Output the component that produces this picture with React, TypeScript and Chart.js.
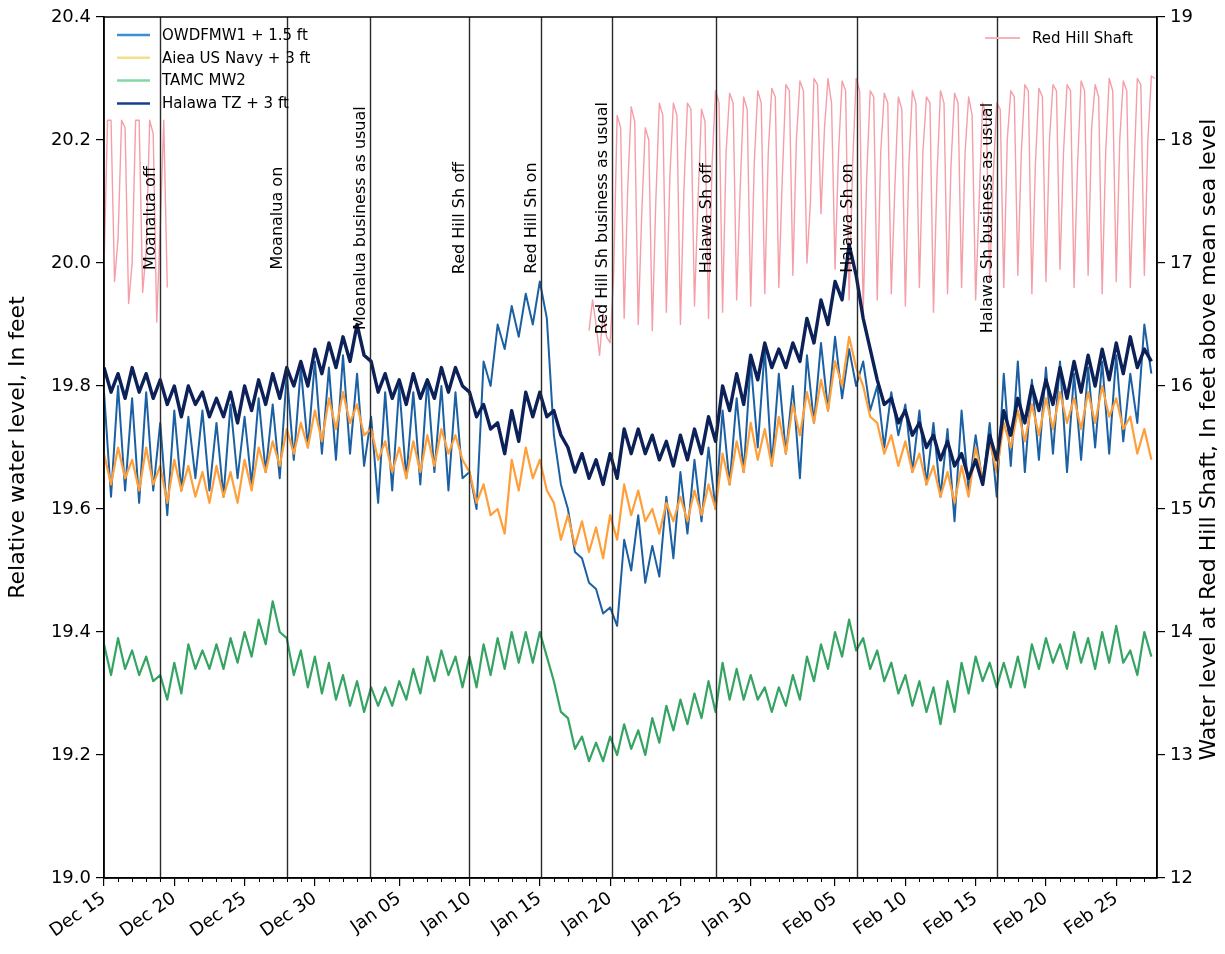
import React, { useEffect, useRef } from 'react';
import { Chart, registerables } from 'chart.js';
Chart.register(...registerables);

// ---- axis ticks ----
const tickDays = [0, 5, 10, 15, 21, 26, 31, 36, 41, 46, 52, 57, 62, 67, 72];
const tickLabels = ['Dec 15', 'Dec 20', 'Dec 25', 'Dec 30', 'Jan 05', 'Jan 10', 'Jan 15', 'Jan 20', 'Jan 25', 'Jan 30', 'Feb 05', 'Feb 10', 'Feb 15', 'Feb 20', 'Feb 25'];
const leftTicks = [19.0, 19.2, 19.4, 19.6, 19.8, 20.0, 20.2, 20.4];
const rightTicks = [12, 13, 14, 15, 16, 17, 18, 19];

// ---- event markers (days after Dec 15) ----
const eventDays = [3.98, 13.02, 18.92, 25.96, 31.08, 36.13, 43.53, 53.56, 63.51];
const eventLabels = ['Moanalua off', 'Moanalua on', 'Moanalua business as usual', 'Red Hill Sh off', 'Red Hill Sh on', 'Red Hill Sh business as usual', 'Halawa Sh off', 'Halawa Sh on', 'Halawa Sh business as usual'];
const eventLabelLevel = 20.073;

// ---- well series: 12-hourly samples starting Dec 15 ----
const wellStepDays = 0.5;

const owdfmw1 = [
  19.79, 19.62, 19.80, 19.63, 19.78, 19.61, 19.79, 19.63, 19.74, 19.59,
  19.76, 19.63, 19.75, 19.65, 19.76, 19.63, 19.74, 19.62, 19.77, 19.65,
  19.75, 19.64, 19.78, 19.66, 19.77, 19.65, 19.82, 19.68, 19.83, 19.70,
  19.84, 19.69, 19.83, 19.68, 19.85, 19.69, 19.82, 19.67, 19.75, 19.61,
  19.79, 19.63, 19.80, 19.65, 19.79, 19.64, 19.81, 19.66, 19.80, 19.63,
  19.79, 19.65, 19.66, 19.60, 19.84, 19.80, 19.90, 19.86, 19.93, 19.88,
  19.95, 19.90, 19.97, 19.91, 19.72, 19.64, 19.60, 19.53, 19.52, 19.48,
  19.47, 19.43, 19.44, 19.41, 19.55, 19.50, 19.59, 19.48, 19.54, 19.49,
  19.62, 19.52, 19.66, 19.56, 19.68, 19.58, 19.70, 19.60, 19.76, 19.64,
  19.78, 19.66, 19.84, 19.70, 19.86, 19.67, 19.82, 19.69, 19.80, 19.65,
  19.85, 19.74, 19.87, 19.76, 19.88, 19.78, 19.86, 19.80, 19.84, 19.76,
  19.80, 19.70, 19.79, 19.72, 19.77, 19.66, 19.76, 19.64, 19.74, 19.62,
  19.73, 19.58, 19.76, 19.63, 19.72, 19.64, 19.74, 19.62, 19.82, 19.67,
  19.84, 19.66, 19.81, 19.68, 19.83, 19.69, 19.84, 19.66, 19.82, 19.68,
  19.83, 19.70, 19.84, 19.69, 19.85, 19.71, 19.82, 19.74, 19.90, 19.82,
];

const aieaNavy = [
  19.69, 19.64, 19.70, 19.65, 19.68, 19.63, 19.70, 19.64, 19.67, 19.61,
  19.68, 19.63, 19.67, 19.62, 19.66, 19.61, 19.67, 19.62, 19.66, 19.61,
  19.68, 19.63, 19.70, 19.66, 19.71, 19.67, 19.73, 19.69, 19.74, 19.70,
  19.76, 19.71, 19.78, 19.73, 19.79, 19.74, 19.77, 19.72, 19.73, 19.68,
  19.71, 19.66, 19.70, 19.65, 19.71, 19.66, 19.72, 19.67, 19.73, 19.69,
  19.72, 19.68, 19.66, 19.61, 19.64, 19.59, 19.60, 19.56, 19.68, 19.63,
  19.70, 19.65, 19.68, 19.63, 19.61, 19.55, 19.59, 19.54, 19.58, 19.53,
  19.57, 19.52, 19.59, 19.55, 19.64, 19.59, 19.63, 19.58, 19.60, 19.56,
  19.61, 19.58, 19.62, 19.58, 19.63, 19.59, 19.64, 19.60, 19.69, 19.64,
  19.71, 19.66, 19.74, 19.68, 19.73, 19.67, 19.75, 19.69, 19.77, 19.72,
  19.79, 19.74, 19.81, 19.76, 19.84, 19.80, 19.88, 19.83, 19.80, 19.75,
  19.74, 19.69, 19.72, 19.67, 19.71, 19.66, 19.69, 19.64, 19.67, 19.62,
  19.66, 19.61, 19.67, 19.62, 19.70, 19.65, 19.71, 19.66, 19.74, 19.70,
  19.76, 19.71, 19.77, 19.72, 19.78, 19.73, 19.79, 19.74, 19.78, 19.73,
  19.79, 19.74, 19.80, 19.75, 19.78, 19.73, 19.75, 19.69, 19.73, 19.68,
];

const tamcMw2 = [
  19.38, 19.33, 19.39, 19.34, 19.37, 19.33, 19.36, 19.32, 19.33, 19.29,
  19.35, 19.30, 19.38, 19.34, 19.37, 19.34, 19.38, 19.34, 19.39, 19.35,
  19.40, 19.36, 19.42, 19.38, 19.45, 19.40, 19.39, 19.33, 19.37, 19.31,
  19.36, 19.30, 19.35, 19.29, 19.33, 19.28, 19.32, 19.27, 19.31, 19.28,
  19.31, 19.28, 19.32, 19.29, 19.34, 19.30, 19.36, 19.32, 19.37, 19.33,
  19.36, 19.31, 19.36, 19.31, 19.38, 19.33, 19.39, 19.34, 19.40, 19.35,
  19.40, 19.35, 19.40, 19.36, 19.32, 19.27, 19.26, 19.21, 19.23, 19.19,
  19.22, 19.19, 19.23, 19.20, 19.25, 19.21, 19.24, 19.20, 19.26, 19.22,
  19.28, 19.24, 19.29, 19.25, 19.30, 19.26, 19.32, 19.27, 19.35, 19.29,
  19.34, 19.29, 19.33, 19.29, 19.31, 19.27, 19.31, 19.28, 19.33, 19.29,
  19.36, 19.32, 19.38, 19.34, 19.40, 19.36, 19.42, 19.37, 19.39, 19.34,
  19.37, 19.32, 19.35, 19.30, 19.33, 19.28, 19.32, 19.27, 19.31, 19.25,
  19.32, 19.27, 19.35, 19.30, 19.36, 19.32, 19.35, 19.31, 19.35, 19.31,
  19.36, 19.31, 19.38, 19.34, 19.39, 19.35, 19.38, 19.34, 19.40, 19.35,
  19.39, 19.34, 19.40, 19.35, 19.41, 19.35, 19.37, 19.33, 19.40, 19.36,
];

const halawaTz = [
  19.83, 19.79, 19.82, 19.78, 19.83, 19.79, 19.82, 19.78, 19.81, 19.77,
  19.80, 19.75, 19.80, 19.77, 19.79, 19.75, 19.78, 19.75, 19.79, 19.74,
  19.80, 19.76, 19.81, 19.77, 19.82, 19.78, 19.83, 19.80, 19.84, 19.80,
  19.86, 19.82, 19.87, 19.83, 19.88, 19.84, 19.90, 19.85, 19.84, 19.79,
  19.82, 19.78, 19.81, 19.77, 19.82, 19.78, 19.81, 19.78, 19.83, 19.79,
  19.83, 19.80, 19.79, 19.75, 19.77, 19.73, 19.74, 19.69, 19.76, 19.71,
  19.79, 19.75, 19.79, 19.75, 19.76, 19.72, 19.70, 19.66, 19.69, 19.65,
  19.68, 19.64, 19.69, 19.65, 19.73, 19.69, 19.73, 19.69, 19.72, 19.68,
  19.71, 19.67, 19.72, 19.68, 19.73, 19.69, 19.75, 19.71, 19.80, 19.76,
  19.82, 19.77, 19.85, 19.81, 19.87, 19.83, 19.86, 19.83, 19.87, 19.84,
  19.91, 19.87, 19.94, 19.90, 19.97, 19.94, 20.03, 19.98, 19.91, 19.86,
  19.81, 19.77, 19.78, 19.74, 19.76, 19.72, 19.74, 19.70, 19.72, 19.68,
  19.71, 19.67, 19.69, 19.65, 19.68, 19.64, 19.72, 19.68, 19.76, 19.72,
  19.78, 19.74, 19.80, 19.76, 19.81, 19.77, 19.83, 19.78, 19.84, 19.79,
  19.85, 19.80, 19.86, 19.81, 19.87, 19.82, 19.88, 19.83, 19.86, 19.84,
];

// ---- Red Hill Shaft: 6-hourly samples, two recorded segments ----
const redHillStepDays = 0.25;
const redHillDecStart = 0;
const redHillDec = [
  16.95, 18.16, 18.16, 16.85, 17.2, 18.16, 18.1, 16.67, 17.0, 18.16,
  18.16, 16.76, 17.1, 18.16, 18.05, 16.52, 17.3, 18.16, 16.8,
];
const redHillJanStart = 34.5;
const redHillJanFeb = [
  16.45, 16.7,
  16.5, 16.25, 16.6, 16.4,
  16.35, 16.9, 18.2, 18.1,
  16.55, 17.6, 18.27, 18.15,
  16.5, 17.4, 18.1, 18.0,
  16.45, 17.5, 18.3, 18.2,
  16.6, 17.7, 18.3, 18.2,
  16.5, 17.6, 18.3, 18.25,
  16.65, 17.5, 18.25, 18.15,
  16.55, 17.8, 18.4, 18.3,
  16.6, 17.9, 18.38, 18.3,
  16.7, 17.6, 18.35, 18.25,
  16.65, 17.8, 18.4, 18.3,
  16.75, 17.9, 18.42, 18.35,
  16.8, 17.7, 18.45, 18.4,
  16.9, 18.0, 18.48, 18.4,
  17.0, 17.5, 18.5, 18.45,
  17.4, 18.1, 18.5, 18.3,
  16.95, 17.9, 18.48, 18.4,
  16.7, 17.8, 18.5, 18.4,
  16.6, 17.7, 18.4, 18.35,
  16.7, 17.9, 18.38, 18.3,
  16.75, 17.6, 18.35, 18.25,
  16.65, 17.8, 18.4, 18.3,
  16.8, 17.9, 18.35, 18.3,
  16.6, 17.7, 18.4, 18.3,
  16.75, 17.8, 18.38, 18.3,
  16.8, 17.9, 18.35, 18.2,
  16.7, 17.5, 18.3, 18.2,
  16.85, 17.7, 18.3, 18.25,
  16.8, 18.0, 18.4, 18.35,
  16.9, 17.9, 18.45, 18.4,
  16.75, 17.8, 18.42, 18.35,
  16.85, 18.0, 18.45, 18.4,
  16.95, 17.9, 18.45, 18.4,
  16.8, 17.8, 18.48, 18.4,
  16.9, 18.1, 18.45, 18.35,
  16.75, 17.9, 18.5, 18.4,
  16.85, 18.0, 18.48, 18.4,
  16.8, 17.7, 18.5, 18.45,
  16.9, 18.0, 18.52, 18.5,
];

const FONT = "'DejaVu Sans', 'Liberation Sans', sans-serif";

const wellPoints = (vals: number[]) => vals.map((v, i) => ({ x: i * wellStepDays, y: v }));
const redHillPoints = () => {
  const a = redHillDec.map((v, i) => ({ x: redHillDecStart + i * redHillStepDays, y: v as number | null }));
  const gapX = redHillDecStart + redHillDec.length * redHillStepDays;
  const b = redHillJanFeb.map((v, i) => ({ x: redHillJanStart + i * redHillStepDays, y: v as number | null }));
  return [...a, { x: gapX, y: null }, ...b];
};

const decorPlugin = {
  id: 'decor',
  afterDatasetsDraw(chart: any) {
    const { ctx, chartArea: a, scales } = chart;
    const xs = scales.x, ys = scales.y;
    ctx.save();
    ctx.strokeStyle = '#2a2a2a';
    ctx.lineWidth = 1.4;
    eventDays.forEach((d, i) => {
      const px = Math.round(xs.getPixelForValue(d)) + 0.5;
      ctx.beginPath();
      ctx.moveTo(px, a.top);
      ctx.lineTo(px, a.bottom);
      ctx.stroke();
      ctx.save();
      ctx.translate(px - 10, ys.getPixelForValue(eventLabelLevel));
      ctx.rotate(-Math.PI / 2);
      ctx.font = `16px ${FONT}`;
      ctx.fillStyle = '#000';
      ctx.textAlign = 'center';
      ctx.textBaseline = 'middle';
      ctx.fillText(eventLabels[i], 0, 0);
      ctx.restore();
    });
    ctx.restore();
  },
  afterDraw(chart: any) {
    const { ctx, chartArea: a, scales } = chart;
    const xs = scales.x;
    ctx.save();
    // frame
    ctx.strokeStyle = '#000';
    ctx.lineWidth = 1.5;
    ctx.strokeRect(a.left, a.top, a.right - a.left, a.bottom - a.top);
    // daily minor ticks
    ctx.lineWidth = 1;
    for (let d = 0; d <= 74; d++) {
      if (tickDays.includes(d)) continue;
      const px = Math.round(xs.getPixelForValue(d)) + 0.5;
      ctx.beginPath();
      ctx.moveTo(px, a.bottom);
      ctx.lineTo(px, a.bottom + 4);
      ctx.stroke();
    }
    // left legend
    const items = [
      { label: 'OWDFMW1 + 1.5 ft', color: '#3b8fd4' },
      { label: 'Aiea US Navy + 3 ft', color: '#f3e08c' },
      { label: 'TAMC MW2', color: '#86d6a4' },
      { label: 'Halawa TZ + 3 ft', color: '#173f8c' },
    ];
    ctx.font = `15px ${FONT}`;
    ctx.textBaseline = 'middle';
    ctx.textAlign = 'left';
    items.forEach((it, i) => {
      const y = a.top + 18 + i * 22.8;
      ctx.strokeStyle = it.color;
      ctx.lineWidth = 2.5;
      ctx.beginPath();
      ctx.moveTo(a.left + 13, y);
      ctx.lineTo(a.left + 46, y);
      ctx.stroke();
      ctx.fillStyle = '#000';
      ctx.fillText(it.label, a.left + 58, y + 1);
    });
    // right legend
    {
      const y = a.top + 21;
      ctx.strokeStyle = '#f6b3ba';
      ctx.lineWidth = 2;
      ctx.beginPath();
      ctx.moveTo(a.right - 172, y);
      ctx.lineTo(a.right - 137, y);
      ctx.stroke();
      ctx.fillStyle = '#000';
      ctx.fillText('Red Hill Shaft', a.right - 125, y + 1);
    }
    // axis titles
    const cy = (a.top + a.bottom) / 2;
    ctx.font = `22px ${FONT}`;
    ctx.textAlign = 'center';
    ctx.textBaseline = 'middle';
    ctx.fillStyle = '#000';
    ctx.save();
    ctx.translate(18, cy);
    ctx.rotate(-Math.PI / 2);
    ctx.fillText('Relative water level, In feet', 0, 0);
    ctx.restore();
    ctx.save();
    ctx.translate(1209, cy - 8);
    ctx.rotate(-Math.PI / 2);
    ctx.fillText('Water level at Red Hill Shaft, In feet above mean sea level', 0, 0);
    ctx.restore();
    ctx.restore();
  },
};

export default function App() {
  const ref = useRef<HTMLCanvasElement>(null);
  useEffect(() => {
    const canvas = ref.current;
    if (!canvas) return;
    const chart = new Chart(canvas, {
      type: 'line',
      data: {
        datasets: [
          { label: 'Halawa TZ + 3 ft', data: wellPoints(halawaTz), yAxisID: 'y', borderColor: '#0c2158', borderWidth: 3.4, pointRadius: 0, tension: 0, borderJoinStyle: 'round' },
          { label: 'TAMC MW2', data: wellPoints(tamcMw2), yAxisID: 'y', borderColor: '#35a463', borderWidth: 2.2, pointRadius: 0, tension: 0, borderJoinStyle: 'round' },
          { label: 'Aiea US Navy + 3 ft', data: wellPoints(aieaNavy), yAxisID: 'y', borderColor: '#ff9f3a', borderWidth: 2.2, pointRadius: 0, tension: 0, borderJoinStyle: 'round' },
          { label: 'OWDFMW1 + 1.5 ft', data: wellPoints(owdfmw1), yAxisID: 'y', borderColor: '#1c60a4', borderWidth: 2.0, pointRadius: 0, tension: 0, borderJoinStyle: 'round' },
          { label: 'Red Hill Shaft', data: redHillPoints(), yAxisID: 'y2', borderColor: '#f59ea8', borderWidth: 1.4, pointRadius: 0, tension: 0, spanGaps: false, borderJoinStyle: 'round' },
        ] as any,
      },
      options: {
        responsive: false,
        animation: false,
        devicePixelRatio: 1,
        layout: { padding: { top: 17, left: 0, right: 0, bottom: 0 } },
        plugins: { legend: { display: false }, tooltip: { enabled: false }, title: { display: false } },
        scales: {
          x: {
            type: 'linear',
            min: 0,
            max: 74.9,
            afterFit: (s: any) => { s.height = 76; },
            afterBuildTicks: (s: any) => { s.ticks = tickDays.map((v) => ({ value: v })); },
            grid: { drawOnChartArea: false, drawTicks: true, tickLength: 8, color: '#000', lineWidth: 1.2 },
            border: { display: true, color: '#000', width: 1.5 },
            ticks: {
              autoSkip: false,
              maxRotation: 35,
              minRotation: 35,
              padding: 2,
              color: '#000',
              font: { family: FONT, size: 18 },
              callback: (v: any) => {
                const idx = tickDays.indexOf(Number(v));
                return idx >= 0 ? tickLabels[idx] : '';
              },
            },
          },
          y: {
            type: 'linear',
            position: 'left',
            min: 19.0,
            max: 20.4,
            afterFit: (s: any) => { s.width = 104; },
            afterBuildTicks: (s: any) => { s.ticks = leftTicks.map((v) => ({ value: v })); },
            grid: { drawOnChartArea: false, drawTicks: true, tickLength: 8, color: '#000', lineWidth: 1.2 },
            border: { display: true, color: '#000', width: 1.5 },
            ticks: { color: '#000', padding: 5, font: { family: FONT, size: 18 }, callback: (v: any) => Number(v).toFixed(1) },
          },
          y2: {
            type: 'linear',
            position: 'right',
            min: 12,
            max: 19,
            afterFit: (s: any) => { s.width = 68; },
            afterBuildTicks: (s: any) => { s.ticks = rightTicks.map((v) => ({ value: v })); },
            grid: { drawOnChartArea: false, drawTicks: true, tickLength: 8, color: '#000', lineWidth: 1.2 },
            border: { display: true, color: '#000', width: 1.5 },
            ticks: { color: '#000', padding: 5, font: { family: FONT, size: 18 }, callback: (v: any) => String(v) },
          },
        },
      } as any,
      plugins: [decorPlugin],
    });
    return () => chart.destroy();
  }, []);
  return (
    <div style={{ position: 'fixed', left: 0, top: 0, width: 1225, height: 954, background: '#fff' }}>
      <canvas ref={ref} width={1225} height={954} style={{ display: 'block', width: 1225, height: 954 }} />
    </div>
  );
}
